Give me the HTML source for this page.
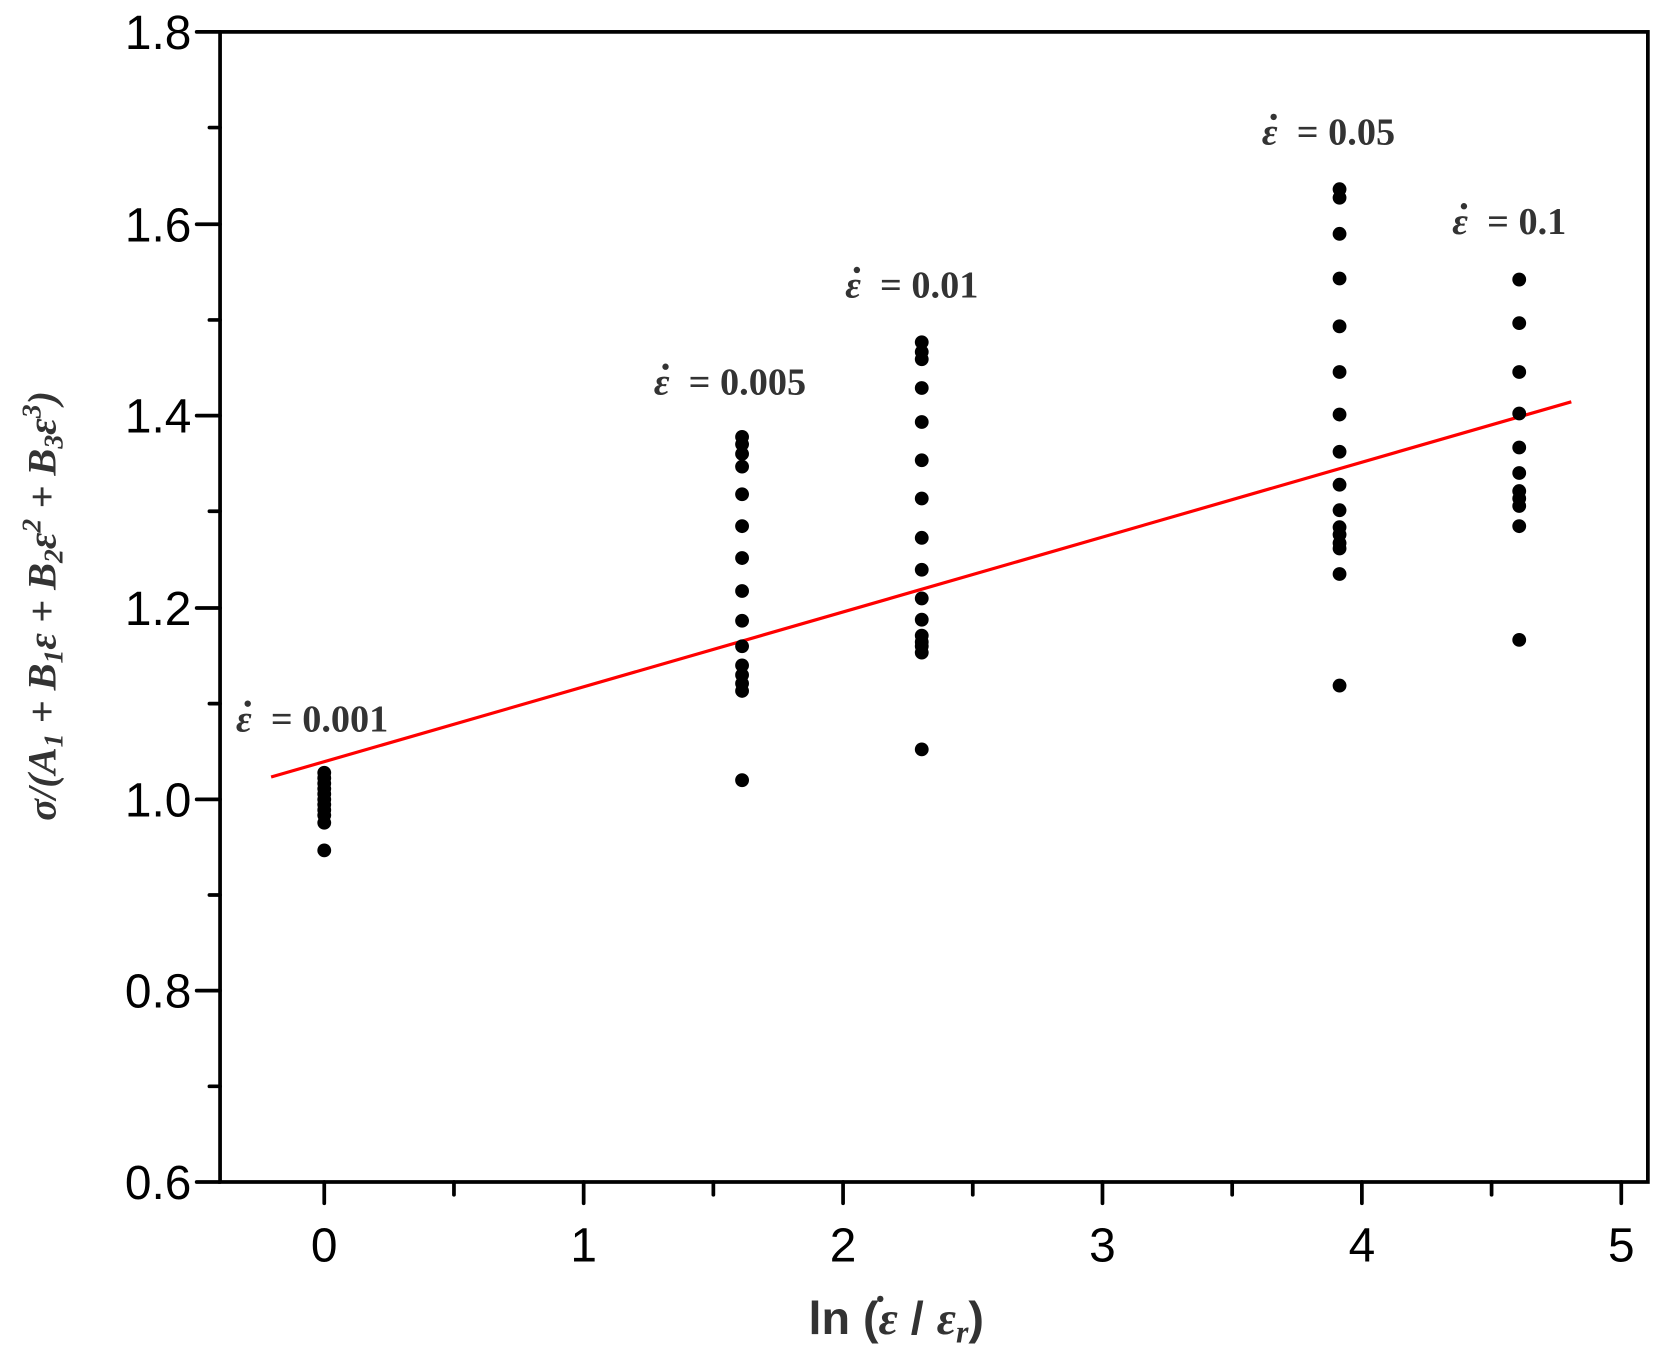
<!DOCTYPE html>
<html><head><meta charset="utf-8"><style>html,body{margin:0;padding:0;background:#fff}svg{display:block}</style></head><body>
<svg width="1667" height="1368" viewBox="0 0 1568 1287" preserveAspectRatio="none" xmlns="http://www.w3.org/2000/svg">
<rect width="1568" height="1287" fill="#fff"/>
<g stroke="#000" stroke-width="3.5" fill="none" stroke-linecap="round">
<rect x="207" y="30" width="1343" height="1082"/>
<path d="M185 30H207M185 211H207M185 391H207M185 572H207M185 752H207M185 932H207M185 1112H207"/>
<path d="M197 120H207M197 301H207M197 481H207M197 662H207M197 842H207M197 1022H207"/>
<path d="M305 1112V1132M549 1112V1132M793 1112V1132M1037 1112V1132M1281 1112V1132M1525 1112V1132"/>
<path d="M427 1112V1124M671 1112V1124M915 1112V1124M1159 1112V1124M1403 1112V1124"/>
</g>
<g font-family="Liberation Sans, sans-serif" font-size="45" fill="#000" text-anchor="end">
<text x="180" y="46">1.8</text><text x="180" y="227">1.6</text><text x="180" y="407">1.4</text>
<text x="180" y="588">1.2</text><text x="180" y="768">1.0</text><text x="180" y="948">0.8</text><text x="180" y="1128">0.6</text>
</g>
<g font-family="Liberation Sans, sans-serif" font-size="45" fill="#000" text-anchor="middle">
<text x="305" y="1187">0</text><text x="549" y="1187">1</text><text x="793" y="1187">2</text>
<text x="1037" y="1187">3</text><text x="1281" y="1187">4</text><text x="1525" y="1187">5</text>
</g>
<text x="843" y="1255" font-family="Liberation Sans, sans-serif" font-size="44" font-weight="bold" fill="#333" text-anchor="middle">ln (<tspan font-family="Liberation Serif, serif" font-style="italic">ε</tspan> / <tspan font-family="Liberation Serif, serif" font-style="italic">ε<tspan font-size="30" dy="8">r</tspan></tspan><tspan dy="-8">)</tspan></text>
<circle cx="828" cy="1222" r="3" fill="#333"/>
<text transform="translate(52,570) rotate(-90)" font-family="Liberation Serif, serif" font-size="38" font-weight="bold" font-style="italic" fill="#333" text-anchor="middle">σ/(A<tspan font-size="26" dy="7">1</tspan><tspan dy="-7"> + B</tspan><tspan font-size="26" dy="7">1</tspan><tspan dy="-7">ε + B</tspan><tspan font-size="26" dy="7">2</tspan><tspan dy="-7">ε</tspan><tspan font-size="26" dy="-14">2</tspan><tspan dy="14"> + B</tspan><tspan font-size="26" dy="7">3</tspan><tspan dy="-7">ε</tspan><tspan font-size="26" dy="-14">3</tspan><tspan dy="14">)</tspan></text>
<line x1="255" y1="731" x2="1478" y2="378" stroke="#f00" stroke-width="3"/>
<g fill="#000">
<circle cx="305" cy="727" r="6.5"/><circle cx="305" cy="732" r="6.5"/><circle cx="305" cy="737" r="6.5"/><circle cx="305" cy="742" r="6.5"/><circle cx="305" cy="747" r="6.5"/><circle cx="305" cy="752" r="6.5"/><circle cx="305" cy="757" r="6.5"/><circle cx="305" cy="762" r="6.5"/><circle cx="305" cy="767" r="6.5"/><circle cx="305" cy="774" r="6.5"/><circle cx="305" cy="800" r="6.5"/>
<circle cx="698" cy="411" r="6.5"/><circle cx="698" cy="418" r="6.5"/><circle cx="698" cy="427" r="6.5"/><circle cx="698" cy="439" r="6.5"/><circle cx="698" cy="465" r="6.5"/><circle cx="698" cy="495" r="6.5"/><circle cx="698" cy="525" r="6.5"/><circle cx="698" cy="556" r="6.5"/><circle cx="698" cy="584" r="6.5"/><circle cx="698" cy="608" r="6.5"/><circle cx="698" cy="626" r="6.5"/><circle cx="698" cy="635" r="6.5"/><circle cx="698" cy="643" r="6.5"/><circle cx="698" cy="650" r="6.5"/><circle cx="698" cy="734" r="6.5"/>
<circle cx="867" cy="322" r="6.5"/><circle cx="867" cy="331" r="6.5"/><circle cx="867" cy="338" r="6.5"/><circle cx="867" cy="365" r="6.5"/><circle cx="867" cy="397" r="6.5"/><circle cx="867" cy="433" r="6.5"/><circle cx="867" cy="469" r="6.5"/><circle cx="867" cy="506" r="6.5"/><circle cx="867" cy="536" r="6.5"/><circle cx="867" cy="563" r="6.5"/><circle cx="867" cy="583" r="6.5"/><circle cx="867" cy="598" r="6.5"/><circle cx="867" cy="604" r="6.5"/><circle cx="867" cy="608" r="6.5"/><circle cx="867" cy="614" r="6.5"/><circle cx="867" cy="705" r="6.5"/>
<circle cx="1260" cy="178" r="6.5"/><circle cx="1260" cy="186" r="6.5"/><circle cx="1260" cy="220" r="6.5"/><circle cx="1260" cy="262" r="6.5"/><circle cx="1260" cy="307" r="6.5"/><circle cx="1260" cy="350" r="6.5"/><circle cx="1260" cy="390" r="6.5"/><circle cx="1260" cy="425" r="6.5"/><circle cx="1260" cy="456" r="6.5"/><circle cx="1260" cy="480" r="6.5"/><circle cx="1260" cy="496" r="6.5"/><circle cx="1260" cy="503" r="6.5"/><circle cx="1260" cy="511" r="6.5"/><circle cx="1260" cy="516" r="6.5"/><circle cx="1260" cy="540" r="6.5"/><circle cx="1260" cy="645" r="6.5"/>
<circle cx="1429" cy="263" r="6.5"/><circle cx="1429" cy="304" r="6.5"/><circle cx="1429" cy="350" r="6.5"/><circle cx="1429" cy="389" r="6.5"/><circle cx="1429" cy="421" r="6.5"/><circle cx="1429" cy="445" r="6.5"/><circle cx="1429" cy="462" r="6.5"/><circle cx="1429" cy="469" r="6.5"/><circle cx="1429" cy="476" r="6.5"/><circle cx="1429" cy="495" r="6.5"/><circle cx="1429" cy="602" r="6.5"/>
</g>
<g font-family="Liberation Serif, serif" font-size="36" font-weight="bold" fill="#333">
<text x="222" y="688"><tspan font-style="italic">ε</tspan><tspan dx="18">= 0.001</tspan></text>
<text x="615" y="371"><tspan font-style="italic">ε</tspan><tspan dx="18">= 0.005</tspan></text>
<text x="795" y="280"><tspan font-style="italic">ε</tspan><tspan dx="18">= 0.01</tspan></text>
<text x="1187" y="136"><tspan font-style="italic">ε</tspan><tspan dx="18">= 0.05</tspan></text>
<text x="1366" y="220"><tspan font-style="italic">ε</tspan><tspan dx="18">= 0.1</tspan></text>
<circle cx="233" cy="662" r="3"/><circle cx="626" cy="345" r="3"/><circle cx="806" cy="254" r="3"/><circle cx="1198" cy="110" r="3"/><circle cx="1377" cy="194" r="3"/>
</g>
</svg>
</body></html>
